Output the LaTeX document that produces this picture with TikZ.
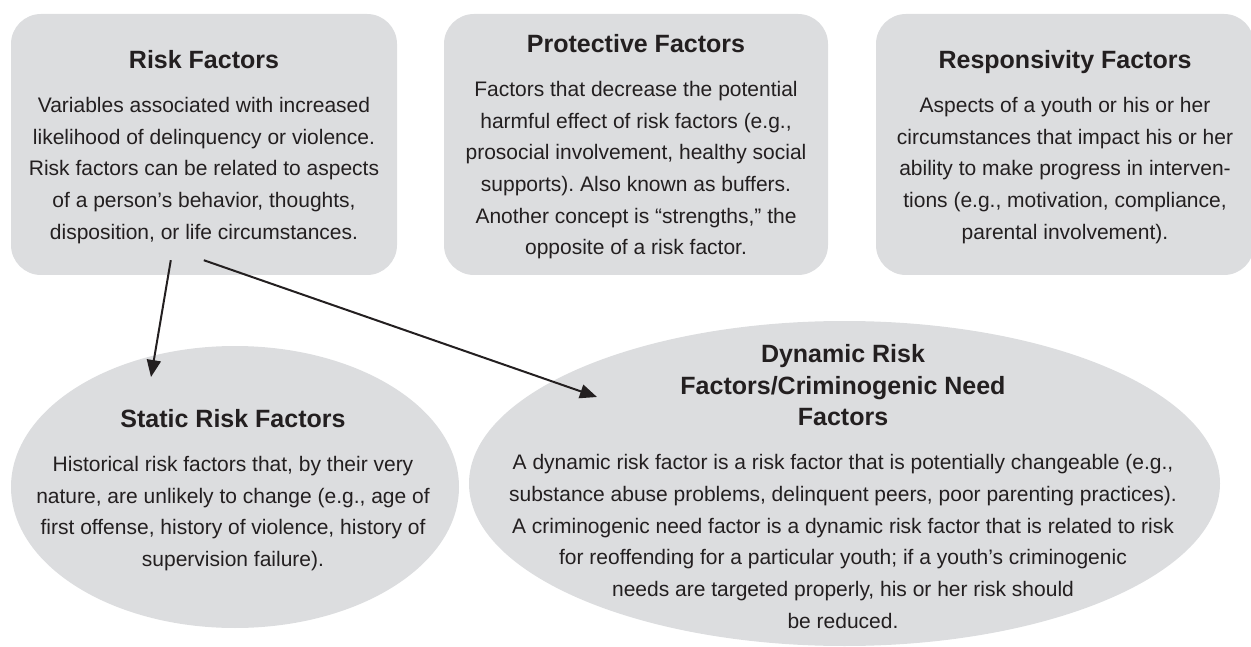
\documentclass[tikz,border=0pt]{standalone}
\usepackage{fontspec}
\setmainfont{Liberation Sans}
\usetikzlibrary{arrows.meta,shapes.geometric,calc}
\definecolor{boxgray}{RGB}{220,221,223}
\definecolor{ink}{RGB}{35,31,32}
\newcommand{\ttl}[1]{{\fontsize{25}{32}\selectfont\bfseries #1}}
\begin{document}
\frenchspacing
\begin{tikzpicture}[x=1pt,y=-1pt,
  card/.style={fill=boxgray, rounded corners=30pt, inner sep=0pt},
  oval/.style={ellipse, fill=boxgray, inner sep=0pt},
  txt/.style={align=center, text=ink, inner sep=0pt, anchor=north, font=\fontsize{21}{31.7}\selectfont\frenchspacing},
  link/.style={draw=ink, line width=2pt, -{Triangle[length=17pt,width=14pt]}}]
\useasboundingbox (0,0) rectangle (1251,647);

% shapes
\node[card, minimum width=386pt, minimum height=261pt] (risk) at (204,144.5) {};
\node[card, minimum width=384pt, minimum height=261pt] (prot) at (636,144.5) {};
\node[card, minimum width=378pt, minimum height=261pt] (resp) at (1065,144.5) {};
\node[oval, minimum width=448pt, minimum height=282pt] (static) at (235,487) {};
\node[oval, minimum width=751pt, minimum height=325pt] (dyn) at (844.5,483.5) {};

% texts
\node[txt] (risktxt) at (204,50) {\ttl{Risk Factors}\\[12.3pt]
Variables associated with increased\\
likelihood of delinquency or violence.\\
Risk factors can be related to aspects\\
of a person’s behavior, thoughts,\\
disposition, or life circumstances.};

\node[txt] (prottxt) at (636,34) {\ttl{Protective Factors}\\[12.3pt]
Factors that decrease the potential\\
harmful effect of risk factors (e.g.,\\
prosocial involvement, healthy social\\
supports). Also known as buffers.\\
Another concept is “strengths,” the\\
opposite of a risk factor.};

\node[txt] (resptxt) at (1065,50) {\ttl{Responsivity Factors}\\[12.3pt]
Aspects of a youth or his or her\\
circumstances that impact his or her\\
ability to make progress in interven-\\
tions (e.g., motivation, compliance,\\
parental involvement).};

\node[txt] (statictxt) at (233,409) {\ttl{Static Risk Factors}\\[12.3pt]
Historical risk factors that, by their very\\
nature, are unlikely to change (e.g., age of\\
first offense, history of violence, history of\\
supervision failure).};

\node[txt] (dyntxt) at (843,344) {\ttl{Dynamic Risk}\\
\ttl{Factors/Criminogenic Need}\\
\ttl{Factors}\\[12.3pt]
A dynamic risk factor is a risk factor that is potentially changeable (e.g.,\\
substance abuse problems, delinquent peers, poor parenting practices).\\
A criminogenic need factor is a dynamic risk factor that is related to risk\\
for reoffending for a particular youth; if a youth’s criminogenic\\
needs are targeted properly, his or her risk should\\
be reduced.};

% connectors
\coordinate (a1s) at ($(risk.south west)+(160,-15)$);
\coordinate (a1e) at ($(static.center)+(-84,-110)$);
\coordinate (a2s) at ($(risk.south west)+(193,-15)$);
\coordinate (a2e) at ($(dyn.center)+(-247.5,-86.5)$);
\draw[link] (a1s) -- (a1e);
\draw[link] (a2s) -- (a2e);
\end{tikzpicture}
\end{document}
